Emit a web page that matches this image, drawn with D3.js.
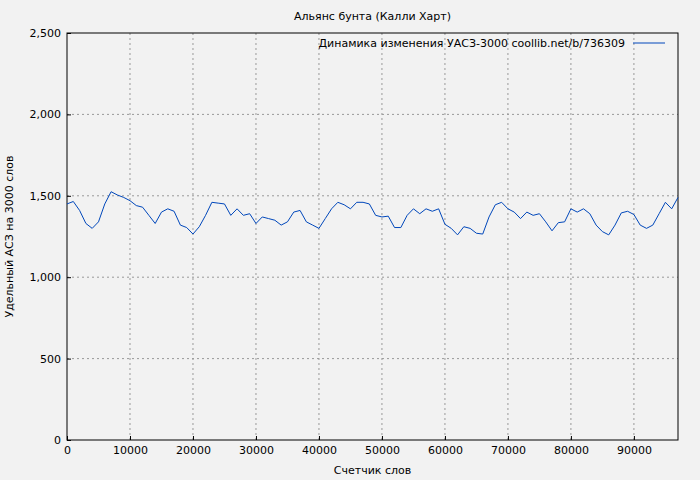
<!DOCTYPE html>
<html><head><meta charset="utf-8">
<script src="https://cdn.jsdelivr.net/npm/d3@7"></script>
<style>body{margin:0;background:#f2f2f2}text{font-family:"DejaVu Sans",sans-serif;font-size:11px}</style>
</head><body>
<script>
// words counted, in steps of 1000
const words = d3.range(0, 98000, 1000);
const uasz = [1450,1465,1410,1330,1300,1340,1450,1525,1505,1490,1470,1440,1430,1380,1330,1400,1420,1405,1320,1305,
1265,1310,1380,1460,1455,1450,1380,1420,1380,1390,1330,1370,1360,1350,1320,1340,1400,1410,1340,1320,
1300,1360,1420,1460,1445,1420,1460,1460,1450,1380,1370,1375,1305,1305,1380,1420,1390,1420,1405,1420,
1325,1300,1260,1310,1300,1270,1265,1370,1445,1460,1420,1400,1360,1400,1380,1390,1340,1285,1335,1340,
1420,1400,1420,1390,1320,1280,1260,1320,1395,1405,1385,1320,1300,1320,1390,1460,1420,1490];
const xTicks = [0,10000,20000,30000,40000,50000,60000,70000,80000,90000];
const yTicks = [0,500,1000,1500,2000,2500];

const W = 700, H = 480, m = {l:67, r:22, t:33, b:40};
const svg = d3.select("body").append("svg").attr("width", W).attr("height", H);
svg.append("rect").attr("width", W).attr("height", H).attr("fill", "#f2f2f2");

const x = d3.scaleLinear().domain([0, 97000]).range([m.l, W - m.r]);
const y = d3.scaleLinear().domain([0, 2500]).range([H - m.b, m.t]);

//GRID
svg.append("g").selectAll("line").data(xTicks.slice(1)).join("line")
  .attr("x1", d => x(d)).attr("x2", d => x(d)).attr("y1", m.t).attr("y2", H - m.b)
  .attr("stroke", "#999").attr("stroke-dasharray", "2,3");
svg.append("g").selectAll("line").data(yTicks.slice(1, -1)).join("line")
  .attr("x1", m.l).attr("x2", W - m.r).attr("y1", d => y(d)).attr("y2", d => y(d))
  .attr("stroke", "#999").attr("stroke-dasharray", "2,3");

//AXES
const ax = svg.append("g").attr("transform", `translate(0,${H - m.b})`)
  .call(d3.axisBottom(x).tickValues(xTicks).tickSize(-4).tickPadding(6).tickFormat(d3.format("d")));
const ay = svg.append("g").attr("transform", `translate(${m.l},0)`)
  .call(d3.axisLeft(y).tickValues(yTicks).tickSize(-4).tickPadding(6));
[ax, ay].forEach(a => { a.select(".domain").remove(); a.selectAll("text").style("font-size", "11px").attr("fill", "#000"); });
svg.append("rect").attr("x", m.l).attr("y", m.t).attr("width", W - m.r - m.l).attr("height", H - m.b - m.t)
  .attr("fill", "none").attr("stroke", "#000");

//LINE
svg.append("path").datum(uasz).attr("fill", "none").attr("stroke", "#0047bb").attr("stroke-width", 1)
  .attr("d", d3.line().x((d, i) => x(words[i])).y(d => y(d)));

//TEXTS
svg.append("text").attr("x", (m.l + W - m.r) / 2).attr("y", 20).attr("text-anchor", "middle").text("Альянс бунта (Калли Харт)");
svg.append("text").attr("x", (m.l + W - m.r) / 2).attr("y", 474).attr("text-anchor", "middle").text("Счетчик слов");
svg.append("text").attr("transform", `translate(13,${(m.t + H - m.b) / 2}) rotate(-90)`).attr("text-anchor", "middle").text("Удельный АСЗ на 3000 слов");
svg.append("text").attr("x", 625).attr("y", 47).attr("text-anchor", "end").text("Динамика изменения УАСЗ-3000 coollib.net/b/736309");
svg.append("line").attr("x1", 633).attr("x2", 665).attr("y1", 43).attr("y2", 43).attr("stroke", "#0047bb");
</script>
</body></html>
